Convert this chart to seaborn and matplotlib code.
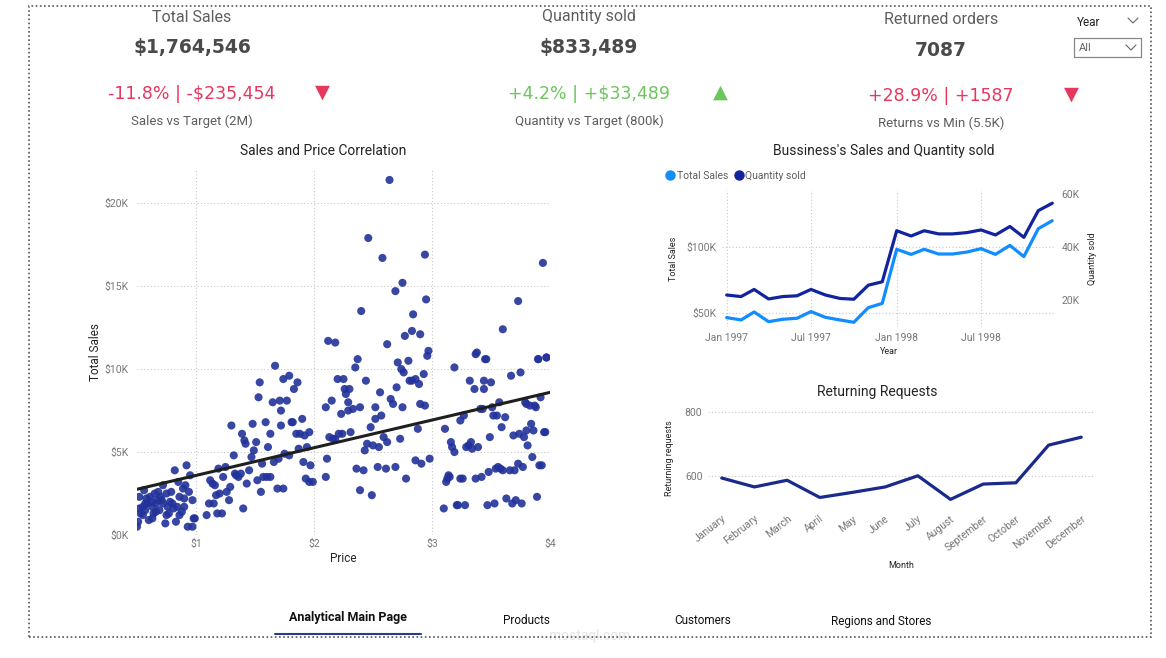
import matplotlib
matplotlib.use("Agg")
import matplotlib.pyplot as plt
import matplotlib.patches as patches
from matplotlib.lines import Line2D
import numpy as np
import pandas as pd
import seaborn as sns

# ---------------- data ----------------
# scatter: price ($) vs total sales (K$)
price = [0.50, 0.51, 0.52, 0.52, 0.53, 0.55, 0.56, 0.57, 0.59, 0.60, 0.61, 0.63, 0.64, 0.65, 0.66,
         0.67, 0.69, 0.70, 0.72, 0.72, 0.74, 0.75, 0.76, 0.77, 0.79, 0.80, 0.82, 0.83, 0.84, 0.85,
         0.86, 0.88, 0.89, 0.90, 0.91, 0.92, 0.93, 0.94, 0.95, 0.97, 0.97, 0.98,
         0.58, 0.62, 0.66, 0.71, 0.75, 0.78, 0.81, 0.86, 0.90, 0.57, 0.68, 0.55, 0.63, 0.99,
         1.09, 1.11, 1.12, 1.14, 1.15, 1.16, 1.17, 1.18, 1.19, 1.20, 1.22, 1.23, 1.25, 1.26, 1.28,
         1.29, 1.30, 1.32, 1.33, 1.34, 1.36, 1.38, 1.39, 1.40, 1.41, 1.42, 1.43, 1.45, 1.47, 1.48,
         1.49, 1.51, 1.52, 1.53, 1.54, 1.55, 1.56, 1.57, 1.59, 1.60, 1.61, 1.63, 1.63, 1.65, 1.66,
         1.67, 1.69, 1.70, 1.71, 1.72, 1.72, 1.74, 1.74, 1.75, 1.77, 1.79, 1.79, 1.81, 1.82, 1.83,
         1.85, 1.86, 1.87, 1.88, 1.90, 1.91, 1.92, 1.93, 1.94, 1.96, 1.96, 1.97, 1.99,
         2.12, 2.18, 2.40, 2.46, 2.58, 2.64, 2.69, 2.75, 2.84, 2.94, 2.95, 2.77, 2.83, 2.90, 2.62,
         2.97, 2.96, 2.37, 3.37, 3.45, 3.60, 3.73, 3.94, 3.90, 3.97,
         2.10, 2.10, 2.11, 2.13, 2.15, 2.16, 2.18, 2.20, 2.21, 2.23, 2.24, 2.25, 2.26, 2.27, 2.29,
         2.29, 2.30, 2.31, 2.33, 2.35, 2.36, 2.39, 2.39, 2.42, 2.43, 2.44, 2.45, 2.48, 2.49, 2.50,
         2.52, 2.52, 2.54, 2.55, 2.56, 2.57, 2.59, 2.61, 2.62, 2.65, 2.67, 2.69, 2.70, 2.71, 2.73,
         2.74, 2.75, 2.76, 2.78, 2.80, 2.81, 2.83, 2.86, 2.86, 2.88, 2.89, 2.90, 2.91, 2.93, 2.94,
         2.98,
         3.10, 3.11, 3.12, 3.13, 3.14, 3.15, 3.16, 3.17, 3.19, 3.19, 3.21, 3.22, 3.24, 3.24, 3.26,
         3.27, 3.28, 3.29, 3.31, 3.32, 3.33, 3.34, 3.36, 3.37, 3.38, 3.39, 3.41, 3.42, 3.43, 3.44,
         3.44, 3.46, 3.47, 3.48, 3.49, 3.50, 3.51, 3.52, 3.53, 3.54, 3.55, 3.56, 3.57, 3.58, 3.59,
         3.60, 3.62, 3.63, 3.66, 3.67, 3.68, 3.69, 3.70, 3.71, 3.73, 3.74, 3.75, 3.76, 3.77, 3.78,
         3.79, 3.80, 3.80, 3.81, 3.83, 3.84, 3.85, 3.86, 3.87, 3.88, 3.89, 3.90, 3.91, 3.92, 3.93,
         3.95, 3.96, 3.97]
sales_k = [0.5, 0.8, 1.6, 2.3, 1.3, 1.7, 2.7, 1.5, 1.9, 0.9, 2.3, 1.7, 1.3, 2.5, 1.9,
           2.1, 1.5, 2.3, 3.0, 1.9, 0.7, 2.5, 1.7, 1.3, 2.6, 1.9, 3.9, 0.8, 1.7, 3.2,
           2.3, 1.4, 2.8, 1.7, 3.0, 4.2, 0.5, 2.6, 3.6, 2.1, 0.5, 1.0,
           2.2, 2.0, 1.4, 2.1, 1.2, 2.0, 1.6, 1.2, 2.2, 1.9, 2.6, 1.2, 1.0, 1.0,
           1.2, 1.9, 3.3, 3.1, 1.9, 3.0, 2.4, 1.3, 4.0, 2.5, 1.3, 3.5, 4.1, 2.6, 2.1,
           2.9, 6.6, 4.8, 3.7, 3.6, 3.5, 3.7, 6.1, 1.6, 5.7, 5.5, 3.1, 3.9, 4.7, 6.7,
           5.1, 5.6, 3.3, 8.3, 9.2, 2.6, 4.3, 3.5, 6.8, 3.5, 5.3, 3.5, 6.1, 8.0, 4.4,
           10.2, 2.8, 4.6, 8.1, 7.5, 6.6, 9.4, 2.8, 4.9, 8.1, 4.8, 9.6, 6.8, 6.8, 8.8,
           6.1, 9.2, 5.2, 6.1, 7.0, 4.4, 6.0, 3.4, 5.3, 3.2, 6.2, 4.2, 3.2,
           11.7, 11.6, 13.5, 17.9, 16.7, 21.4, 14.7, 15.2, 13.3, 16.9, 14.2, 12.0, 12.3, 12.1, 11.5,
           11.1, 10.8, 10.6, 10.9, 10.6, 12.4, 14.1, 16.4, 10.6, 10.7,
           3.5, 7.7, 4.6, 5.9, 8.1, 5.8, 5.8, 9.4, 6.1, 7.3, 6.1, 9.4, 8.8, 8.5, 8.0,
           7.5, 8.8, 6.2, 7.6, 10.1, 4.0, 2.7, 7.7, 3.9, 5.1, 9.3, 5.5, 6.5, 2.4, 5.4,
           7.0, 7.7, 4.1, 5.3, 8.6, 7.2, 5.9, 4.0, 5.6, 8.2, 7.9, 4.1, 8.9, 10.4, 5.8,
           10.0, 7.7, 9.8, 3.4, 10.5, 9.3, 9.3, 4.5, 9.4, 6.4, 9.1, 7.9, 4.3, 9.7, 7.8,
           4.6,
           1.6, 6.4, 3.2, 3.4, 3.6, 3.5, 5.6, 5.3, 5.0, 10.1, 1.8, 1.8, 6.9, 3.4, 3.4,
           7.2, 1.8, 5.3, 5.4, 9.3, 5.6, 5.2, 8.8, 3.4, 11.0, 5.3, 7.6, 3.5, 7.6, 8.8,
           9.3, 10.6, 1.8, 3.8, 5.9, 9.2, 7.7, 7.2, 1.9, 4.0, 7.2, 4.1, 8.0, 4.0, 6.5,
           3.9, 7.1, 2.2, 3.9, 9.6, 1.9, 6.0, 3.9, 2.1, 4.3, 6.1, 9.8, 1.9, 4.1, 5.9,
           8.0, 6.3, 7.9, 5.4, 7.8, 6.7, 4.7, 6.3, 7.8, 7.7, 2.3, 10.6, 4.2, 8.3, 4.2,
           6.2, 6.2, 10.7]

# monthly business series, Jan 1997 - Dec 1998
months = pd.date_range("1997-01-01", periods=24, freq="MS")
total_sales_k = [46.2, 44.4, 50.5, 43.1, 44.9, 45.7, 50.8, 46.4, 44.4, 42.6, 53.8, 57.1,
                 98.5, 94.6, 98.5, 94.9, 94.9, 96.4, 99.0, 94.6, 101.5, 92.9, 114.3, 120.4]
quantity_k = [21.9, 21.3, 24.0, 20.4, 21.3, 21.6, 24.0, 21.9, 20.6, 20.3, 25.6, 26.9,
              46.2, 44.2, 46.2, 45.0, 45.0, 45.5, 46.5, 44.6, 47.8, 43.7, 53.8, 56.6]

# returning requests by month
month_names = ["January", "February", "March", "April", "May", "June", "July",
               "August", "September", "October", "November", "December"]
returns = [594, 566, 587, 533, 549, 566, 601, 527, 575, 579, 697, 722]

# ---------------- style ----------------
sns.set_theme(style="white")
plt.rcParams["font.family"] = ["Roboto", "DejaVu Sans"]

W, H = 1166, 658
fig = plt.figure(figsize=(W / 100, H / 100), dpi=100)


def fx(px):
    return px / W


def fy(py):
    return 1 - py / H


def box(l, t, r, b):
    return [fx(l), fy(b), (r - l) / W, (b - t) / H]


TITLE_C = "#252423"
TICK_C = "#777777"
RED = "#E6375E"
GREEN = "#6CC65C"
NAVY = "#12239E"
LIGHT = "#118DFF"
GRID = dict(color="#C8C8C8", linestyle=(0, (1, 2)), linewidth=0.8)

# outer dotted frame
fig.add_artist(patches.Rectangle((fx(29), fy(637)), (1151 - 29) / W, (637 - 6) / H,
                                 transform=fig.transFigure, fill=False,
                                 edgecolor="#555555", linestyle=(0, (1, 1.5)), linewidth=1.2))

# ---------------- KPI cards ----------------
kpis = [
    (192, "Total Sales", "$1,764,546", "-11.8% | -$235,454", RED, "▼", 322, "Sales vs Target (2M)", 0),
    (589, "Quantity sold", "$833,489", "+4.2% | +$33,489", GREEN, "▲", 720, "Quantity vs Target (800k)", 0),
    (941, "Returned orders", "7087", "+28.9% | +1587", RED, "▼", 1071, "Returns vs Min (5.5K)", 2),
]
for cx, head, val, delta, col, tri, tx, sub, dy in kpis:
    fig.text(fx(cx), fy(17 + dy), head, ha="center", va="center", fontsize=11.5, color="#605E5C")
    fig.text(fx(cx), fy(48 + dy), val, ha="center", va="center", fontsize=13.5,
             fontweight="bold", color="#4A4A4A", family="DejaVu Sans")
    fig.text(fx(cx), fy(94 + dy), delta, ha="center", va="center", fontsize=12.5, color=col,
             family="DejaVu Sans")
    fig.text(fx(tx), fy(93 + dy), tri, ha="center", va="center", fontsize=14, color=col)
    fig.text(fx(cx), fy(121 + dy), sub, ha="center", va="center", fontsize=9.5, color="#605E5C")

# year slicer
fig.text(fx(1077), fy(22), "Year", ha="left", va="center", fontsize=8.5, color="#252423")
fig.add_artist(Line2D([fx(1128), fx(1133), fx(1138)], [fy(18), fy(23), fy(18)],
                      transform=fig.transFigure, color="#666666", linewidth=0.8))
fig.add_artist(patches.Rectangle((fx(1074), fy(57)), 67 / W, 19 / H, transform=fig.transFigure,
                                 fill=False, edgecolor="#888888", linewidth=0.9))
fig.text(fx(1079), fy(48), "All", ha="left", va="center", fontsize=8, color="#666666")
fig.add_artist(Line2D([fx(1126), fx(1131), fx(1136)], [fy(45), fy(50), fy(45)],
                      transform=fig.transFigure, color="#666666", linewidth=0.8))

# ---------------- scatter ----------------
ax1 = fig.add_axes(box(137, 170, 550, 535))
sc_df = pd.DataFrame({"Price": price, "Total Sales": sales_k})
sns.scatterplot(data=sc_df, x="Price", y="Total Sales", ax=ax1, color="#22329A",
                s=34, alpha=0.9, edgecolor="none")
sns.regplot(data=sc_df, x="Price", y="Total Sales", ax=ax1, scatter=False, ci=None,
            truncate=False, color="#1F1F1F", line_kws=dict(linewidth=2.2))
ax1.set_xlim(0.5, 4.0)
ax1.set_ylim(0, 22)
ax1.set_xticks([1, 2, 3, 4])
ax1.set_xticklabels(["$1", "$2", "$3", "$4"])
ax1.set_yticks([0, 5, 10, 15, 20])
ax1.set_yticklabels(["$0K", "$5K", "$10K", "$15K", "$20K"])
ax1.grid(True, **GRID)
ax1.tick_params(axis="y", length=0, labelsize=7.5, labelcolor=TICK_C, pad=6)
ax1.tick_params(axis="x", length=0, labelsize=7.5, labelcolor=TICK_C, pad=3)
ax1.set_xlabel("Price", fontsize=8.5, color=TITLE_C, labelpad=2)
ax1.set_ylabel("Total Sales", fontsize=8.5, color=TITLE_C, labelpad=2)
for sp in ax1.spines.values():
    sp.set_visible(False)
fig.text(fx(323), fy(151), "Sales and Price Correlation", ha="center", va="center",
         fontsize=10, color=TITLE_C)

# ---------------- sales & quantity ----------------
ax2 = fig.add_axes(box(722, 190, 1056, 327))
ln_df = pd.DataFrame({"Year": months, "Total Sales": total_sales_k, "Quantity sold": quantity_k})
sns.lineplot(data=ln_df, x="Year", y="Total Sales", ax=ax2, color=LIGHT, linewidth=2.3)
ax2r = ax2.twinx()
sns.lineplot(data=ln_df, x="Year", y="Quantity sold", ax=ax2r, color=NAVY, linewidth=2.3)
ax2.set_xlim(months[0] - pd.Timedelta(days=10), months[-1] + pd.Timedelta(days=8))
ax2.set_ylim(39.0, 143.9)
ax2r.set_ylim(9.8, 61.6)
ax2.set_xticks([months[0], months[6], months[12], months[18]])
ax2.set_xticklabels(["Jan 1997", "Jul 1997", "Jan 1998", "Jul 1998"])
ax2.set_yticks([50, 100])
ax2.set_yticklabels(["$50K", "$100K"])
ax2r.set_yticks([20, 40, 60])
ax2r.set_yticklabels(["20K", "40K", "60K"])
ax2.grid(True, **GRID)
for a in (ax2, ax2r):
    a.tick_params(length=0, labelsize=7.5, labelcolor=TICK_C, pad=4)
    for sp in a.spines.values():
        sp.set_visible(False)
ax2.set_xlabel("Year", fontsize=6.5, color=TITLE_C, labelpad=3)
ax2.set_ylabel("Total Sales", fontsize=6.5, color=TITLE_C, labelpad=6)
ax2r.set_ylabel("Quantity sold", fontsize=6.5, color=TITLE_C, labelpad=6)
fig.text(fx(884), fy(151), "Bussiness's Sales and Quantity sold", ha="center", va="center",
         fontsize=10, color=TITLE_C)
handles = [Line2D([], [], marker="o", linestyle="none", markersize=6.5, color=LIGHT),
           Line2D([], [], marker="o", linestyle="none", markersize=6.5, color=NAVY)]
fig.legend(handles, ["Total Sales", "Quantity sold"], loc="center left",
           bbox_to_anchor=(fx(659), fy(176)), frameon=False, ncol=2, fontsize=7.5,
           handletextpad=0.0, columnspacing=0.4, labelcolor="#605E5C", borderpad=0,
           handlelength=1.2)

# ---------------- returning requests ----------------
ax3 = fig.add_axes(box(708, 407.5, 1095, 508))
rt_df = pd.DataFrame({"Month": month_names, "Returning requests": returns})
sns.lineplot(data=rt_df, x="Month", y="Returning requests", ax=ax3, color="#1A2A8C",
             linewidth=2.3, sort=False)
ax3.set_xlim(-0.42, 11.42)
ax3.set_ylim(500, 815)
ax3.set_yticks([600, 800])
ax3.grid(True, axis="y", **GRID)
ax3.tick_params(length=0, labelsize=7.5, labelcolor=TICK_C, pad=4)
plt.setp(ax3.get_xticklabels(), rotation=38, ha="right", rotation_mode="anchor")
for sp in ax3.spines.values():
    sp.set_visible(False)
ax3.set_xlabel("Month", fontsize=6.5, color=TITLE_C, labelpad=6)
ax3.set_ylabel("Returning requests", fontsize=6.5, color=TITLE_C, labelpad=8)
fig.text(fx(877), fy(392), "Returning Requests", ha="center", va="center",
         fontsize=10, color=TITLE_C)

# ---------------- page tabs ----------------
fig.text(fx(348), fy(618), "Analytical Main Page", ha="center", va="center", fontsize=9,
         fontweight="bold", color="#111111")
fig.add_artist(Line2D([fx(275), fx(421)], [fy(634), fy(634)], transform=fig.transFigure,
                      color="#2B3A8E", linewidth=1.5))
for tx, lab in [(526, "Products"), (703, "Customers"), (881, "Regions and Stores")]:
    fig.text(fx(tx), fy(621), lab, ha="center", va="center", fontsize=8.5, color="#111111")

# faint watermark
fig.text(fx(590), fy(636), "mostaql.com", ha="center", va="center", fontsize=10,
         color="#E4E4E4", zorder=0)

fig.savefig("out.png", dpi=100)
